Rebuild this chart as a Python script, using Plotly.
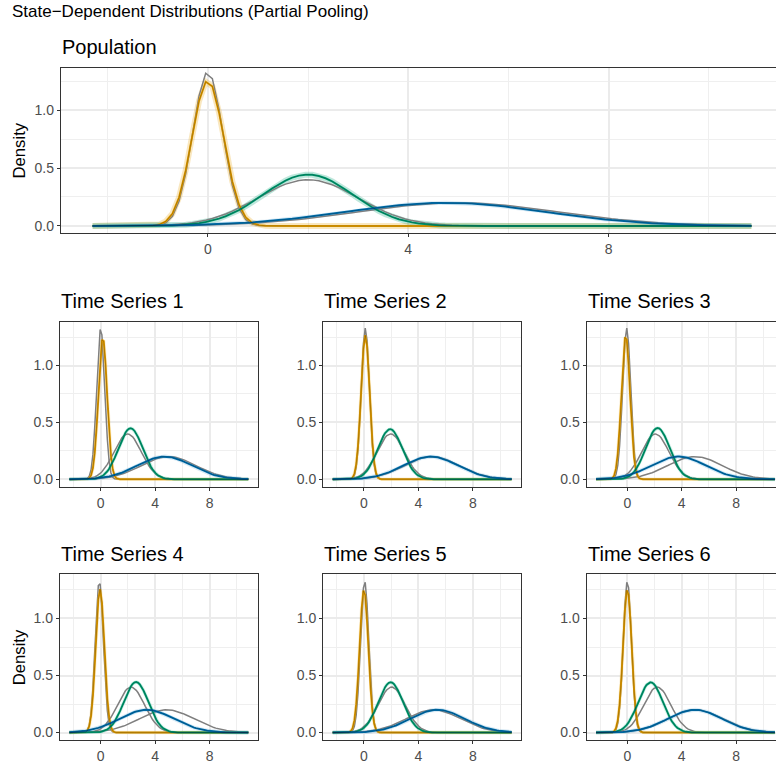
import numpy as np
import plotly.graph_objects as go

# ---------------- data ----------------
panel_names = ["Population", "Time Series 1", "Time Series 2", "Time Series 3",
               "Time Series 4", "Time Series 5", "Time Series 6"]

# true (gray) state distributions, normal(mean, sd)
true_mean_state1 = [0.0, 0.0, 0.1, -0.05, -0.1, 0.05, 0.0]
true_mean_state2 = [2.0, 1.98, 1.96, 2.06, 2.23, 2.03, 2.2]
true_mean_state3 = [5.0, 5.0, 5.0, 4.97, 4.85, 5.1, 5.0]
true_sd_state1 = [0.30, 0.30, 0.30, 0.30, 0.30, 0.30, 0.30]
true_sd_state2 = [1.0, 1.0, 1.0, 1.0, 1.0, 1.0, 1.0]
true_sd_state3 = [2.0, 2.0, 2.0, 2.0, 2.0, 2.0, 2.0]

# estimated (coloured) state distributions
est_mean_state1 = [0.0, 0.15, 0.1, -0.12, -0.05, 0.0, 0.0]
est_sd_state1 = [0.318, 0.32, 0.315, 0.315, 0.317, 0.318, 0.317]
est_mean_state2 = [2.0, 2.2, 1.92, 2.23, 2.6, 1.96, 1.71]
est_sd_state2 = [0.90, 0.89, 0.905, 0.885, 0.90, 0.905, 0.905]
est_mean_state3 = [4.75, 4.7, 4.9, 3.76, 3.38, 5.4, 4.97]
est_sd_state3 = [2.0, 2.0, 2.0, 2.0, 2.0, 2.0, 2.0]

x_start, x_end = -2.3, 10.85
x_tick_vals = [0, 4, 8]
x_tick_labels = ["0", "4", "8"]
x_minor_vals = [-2, 2, 6, 10]
y_tick_vals = [0.0, 0.5, 1.0]
y_tick_labels = ["0.0", "0.5", "1.0"]
y_minor_vals = [0.25, 0.75, 1.25]

state_colors = ["#E69F00", "#009E73", "#0072B2"]
true_color = "#7F7F7F"

main_title = "State\u2212Dependent Distributions (Partial Pooling)"
y_title = "Density"

# ---------------- layout geometry (page pixels) ----------------
# the original graphic is slightly wider than the window and is cut at the right
W, H = 784, 766


def fx(p):
    return p / W


def fy(p):
    return 1 - p / H


# (left, right, top, bottom) in page px, x range, y range
panels = [
    (61, 784, 67.7, 232.7, [-2.93, 11.5], [-0.058, 1.365]),
    (60, 257.7, 321.7, 486.7, [-2.99, 11.54], [-0.065, 1.385]),
    (323.3, 521, 321.7, 486.7, [-2.99, 11.54], [-0.065, 1.385]),
    (586.7, 784, 321.7, 486.7, [-2.99, 11.52], [-0.065, 1.385]),
    (60, 257.7, 574, 740, [-2.99, 11.54], [-0.065, 1.39]),
    (323.3, 521, 574, 740, [-2.99, 11.54], [-0.065, 1.39]),
    (586.7, 784, 574, 740, [-2.99, 11.52], [-0.065, 1.39]),
]
with_ytitle = [True, False, False, False, True, False, False]


def npdf(x, m, s):
    return np.exp(-0.5 * ((x - m) / s) ** 2) / (s * np.sqrt(2 * np.pi))


xg = np.linspace(x_start, x_end, 100)

fig = go.Figure()
annotations = []

for i, name in enumerate(panel_names):
    xa = "x" if i == 0 else f"x{i+1}"
    ya = "y" if i == 0 else f"y{i+1}"
    tm = [true_mean_state1[i], true_mean_state2[i], true_mean_state3[i]]
    ts = [true_sd_state1[i], true_sd_state2[i], true_sd_state3[i]]
    em = [est_mean_state1[i], est_mean_state2[i], est_mean_state3[i]]
    es = [est_sd_state1[i], est_sd_state2[i], est_sd_state3[i]]
    halo_w = [6, 6, 4] if i == 0 else [3.5, 3.5, 4]
    halo_op = [0.25, 0.25, 0.15] if i == 0 else [0.15, 0.15, 0.15]
    # uncertainty halos
    for k in range(3):
        fig.add_trace(go.Scatter(x=xg, y=npdf(xg, em[k], es[k]), mode="lines",
                                 line=dict(color=state_colors[k], width=halo_w[k]),
                                 opacity=halo_op[k], xaxis=xa, yaxis=ya,
                                 showlegend=False, hoverinfo="skip"))
    # true distributions
    for k in range(3):
        fig.add_trace(go.Scatter(x=xg, y=npdf(xg, tm[k], ts[k]), mode="lines",
                                 line=dict(color=true_color, width=1.5),
                                 xaxis=xa, yaxis=ya, showlegend=False))
    # estimated distributions
    for k in range(3):
        fig.add_trace(go.Scatter(x=xg, y=npdf(xg, em[k], es[k]), mode="lines",
                                 line=dict(color=state_colors[k], width=2.0),
                                 xaxis=xa, yaxis=ya, showlegend=False))
    for k in range(3):
        fig.add_trace(go.Scatter(x=xg, y=npdf(xg, em[k], es[k]), mode="lines",
                                 line=dict(color="black", width=0.7),
                                 opacity=0.35, xaxis=xa, yaxis=ya,
                                 showlegend=False, hoverinfo="skip"))

    l, r, t, b, xr, yr = panels[i]
    axis_common = dict(showgrid=True, gridcolor="#EBEBEB", gridwidth=2,
                       zeroline=False, showline=True, linecolor="#333333",
                       linewidth=1.2, ticks="outside", ticklen=3,
                       tickcolor="#333333", tickwidth=1, mirror=True,
                       tickfont=dict(family="Liberation Sans", size=14,
                                     color="#4D4D4D"),
                       fixedrange=True)
    xkey = "xaxis" if i == 0 else f"xaxis{i+1}"
    ykey = "yaxis" if i == 0 else f"yaxis{i+1}"
    fig.update_layout({
        xkey: dict(domain=[fx(l), min(1.0, fx(r))], range=xr, anchor=ya,
                   tickmode="array", tickvals=x_tick_vals, ticktext=x_tick_labels,
                   minor=dict(tickmode="array", tickvals=x_minor_vals, showgrid=True,
                              gridcolor="#EFEFEF", gridwidth=1, ticks=""),
                   **axis_common),
        ykey: dict(domain=[fy(b), fy(t)], range=yr, anchor=xa,
                   tickmode="array", tickvals=y_tick_vals, ticktext=y_tick_labels,
                   minor=dict(tickmode="array", tickvals=y_minor_vals, showgrid=True,
                              gridcolor="#EFEFEF", gridwidth=1, ticks=""),
                   **axis_common),
    })
    # panel title
    title_base = t - 13.5
    annotations.append(dict(text=name, x=fx(l - 1), y=fy(title_base - 7), xref="paper",
                            yref="paper", xanchor="left", yanchor="middle",
                            showarrow=False,
                            font=dict(family="Liberation Sans", size=20,
                                      color="#000000")))
    if with_ytitle[i]:
        annotations.append(dict(text=y_title, x=fx(19.3), y=fy((t + b) / 2),
                                xref="paper", yref="paper", xanchor="center",
                                yanchor="middle", textangle=-90, showarrow=False,
                                font=dict(family="Liberation Sans", size=16.7,
                                          color="#000000")))

annotations.append(dict(text=main_title, x=fx(10), y=fy(11.3), xref="paper",
                        yref="paper", xanchor="left", yanchor="middle",
                        showarrow=False,
                        font=dict(family="Liberation Sans", size=17, color="#000000")))

fig.update_layout(width=W, height=H, margin=dict(l=0, r=0, t=0, b=0),
                  paper_bgcolor="white", plot_bgcolor="white",
                  annotations=annotations, showlegend=False)

fig.write_html("out.html",
               config={"displayModeBar": False, "staticPlot": True},
               post_script="document.body.style.margin='0';"
                           "document.body.style.overflow='hidden';")
